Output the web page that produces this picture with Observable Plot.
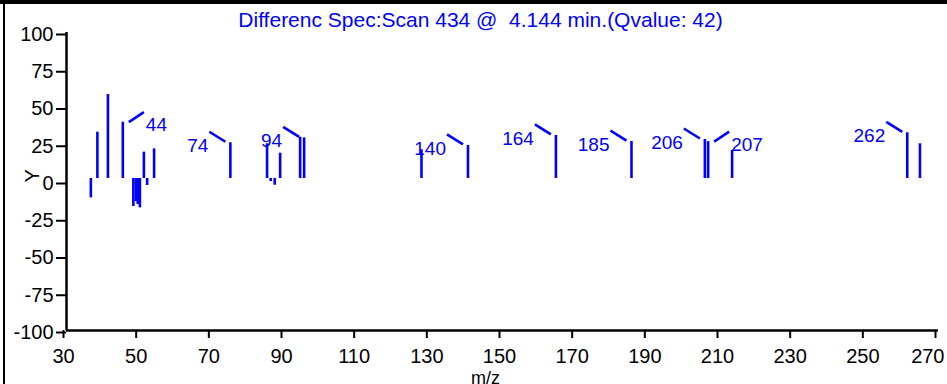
<!DOCTYPE html>
<html><head><meta charset="utf-8">
<script src="https://cdn.jsdelivr.net/npm/d3@7"></script>
<script src="https://cdn.jsdelivr.net/npm/@observablehq/plot@0.6"></script>
<style>
body{margin:0;background:#fff;}
#wrap{position:relative;width:947px;height:384px;overflow:hidden;background:#fff;}
#topbar{position:absolute;left:0;top:0;width:947px;height:4px;background:#000;}
#leftbar{position:absolute;left:3px;top:0;width:2px;height:384px;background:#000;}
svg text{white-space:pre;}
</style></head><body>
<div id="wrap"><div id="chart"></div><div id="topbar"></div><div id="leftbar"></div></div>
<script>
const titleText = "Differenc Spec:Scan 434 @  4.144 min.(Qvalue: 42)";
const xLabel = "m/z";
const yLabel = "Y";
const mz =        [36.7, 38.5, 41.4, 45.5, 48.4, 49.1, 49.6, 50.2, 51.3, 52.2, 54.1, 75.1, 85.2, 86.2, 87.3, 88.8, 94.3, 95.4, 127.7, 140.5, 164.7, 185.5, 205.7, 206.6, 213.2, 261.4, 264.9];
const abundance = [-11,  33.1, 58.4, 39.8, -16.8, -13.5, -15.4, -17.7, 19.7, -2.7, 21.9, 26.0, 25.3, 0,   -2.5, 19.0, 29.7, 29.3, 21.3,  24.2,  30.9,  26.8,  28.2,  26.8,  20.8,  32.7,  25.3];
const stickBase = 2;
const peakLabels = ["44", "74", "94", "140", "164", "185", "206", "207", "262"];
const peakLabelMz = [45.5, 75.1, 95.4, 140.5, 164.7, 185.5, 205.7, 206.6, 261.4];
const peakLabelSide = ["right", "left", "left", "left", "left", "left", "left", "right", "left"];
const xTicks = d3.range(30, 271, 20);
const yTicks = d3.range(-100, 101, 25);

const blue = "#0000ff";
const W = 947, H = 384, mL = 66, mR = 9, mT = 32, mB = 54;
const xDomain = [30, 270], yDomain = [-100, 100];
const kx = (W - mL - mR) / (xDomain[1] - xDomain[0]);
const ky = (H - mT - mB) / (yDomain[1] - yDomain[0]);

const sticks = mz.map((m, i) => ({mz: m, v: abundance[i]}));
const labels = peakLabels.map((t, i) => {
  const m = peakLabelMz[i];
  const v = abundance[mz.indexOf(m)];
  const side = peakLabelSide[i];
  const s = side === "left" ? -1 : 1;
  return {
    text: t, mz: m, v, side,
    x1: m + s * (side === "left" ? 21 : 6) / kx, y1: v + (side === "left" ? 11 : 0) / ky,
    x2: m + s * (side === "left" ? 5 : 21) / kx, y2: v + (side === "left" ? 1 : 10) / ky
  };
});
const lastTick = xTicks[xTicks.length - 1];
const xTickSize = 8, xTickPad = 10;

const chart = Plot.plot({
  width: W, height: H,
  marginLeft: mL, marginRight: mR, marginTop: mT, marginBottom: mB,
  x: {domain: xDomain},
  y: {domain: yDomain},
  style: {fontFamily: "'Liberation Sans', Arial, sans-serif", fontSize: "19px", background: "transparent", color: "#000"},
  marks: [
    Plot.ruleX(sticks, {x: "mz", y1: stickBase, y2: "v", stroke: blue, strokeWidth: 2.6}),
    Plot.link(labels, {x1: "x1", y1: "y1", x2: "x2", y2: "y2", stroke: blue, strokeWidth: 2.6}),
    Plot.text(labels.filter(d => d.side === "left"), {x: "mz", y: "v", text: "text", dx: -22, dy: 3, textAnchor: "end", fill: blue, fontSize: 19}),
    Plot.text(labels.filter(d => d.side === "right"), {x: "mz", y: "v", text: "text", dx: 23, dy: 3, textAnchor: "start", fill: blue, fontSize: 19}),
    Plot.axisY(yTicks, {tickSize: 10, tickPadding: 3, fontSize: 20, strokeWidth: 2, label: null, dy: 2, tickFormat: d => String(d)}),
    Plot.axisX(xTicks, {tickSize: xTickSize, tickPadding: xTickPad, fontSize: 20, strokeWidth: 2, label: null, dx: -3, tickFormat: d => d === lastTick ? "" : String(d)}),
    Plot.text([lastTick], {x: d => d, frameAnchor: "bottom", lineAnchor: "top", dy: xTickSize + xTickPad, dx: 6, textAnchor: "end", text: d => String(d), fill: "#000", fontSize: 20}),
    Plot.ruleX([xDomain[0]], {y1: yDomain[0], y2: yDomain[1], stroke: "#000", strokeWidth: 2.5}),
    Plot.ruleY([yDomain[0]], {x1: xDomain[0], x2: xDomain[1], stroke: "#000", strokeWidth: 2.5}),
    Plot.text([titleText], {frameAnchor: "top", lineAnchor: "middle", dx: -22, dy: -12, text: d => d, fill: blue, fontSize: 21}),
    Plot.text([xLabel], {frameAnchor: "bottom", lineAnchor: "middle", dx: -17, dy: 48, text: d => d, fill: "#000", fontSize: 18}),
    Plot.text([yLabel], {frameAnchor: "left", dx: -34, dy: 1, text: d => d, rotate: -90, fill: "#000", fontSize: 20})
  ]
});
document.getElementById("chart").append(chart);
</script>
</body></html>
